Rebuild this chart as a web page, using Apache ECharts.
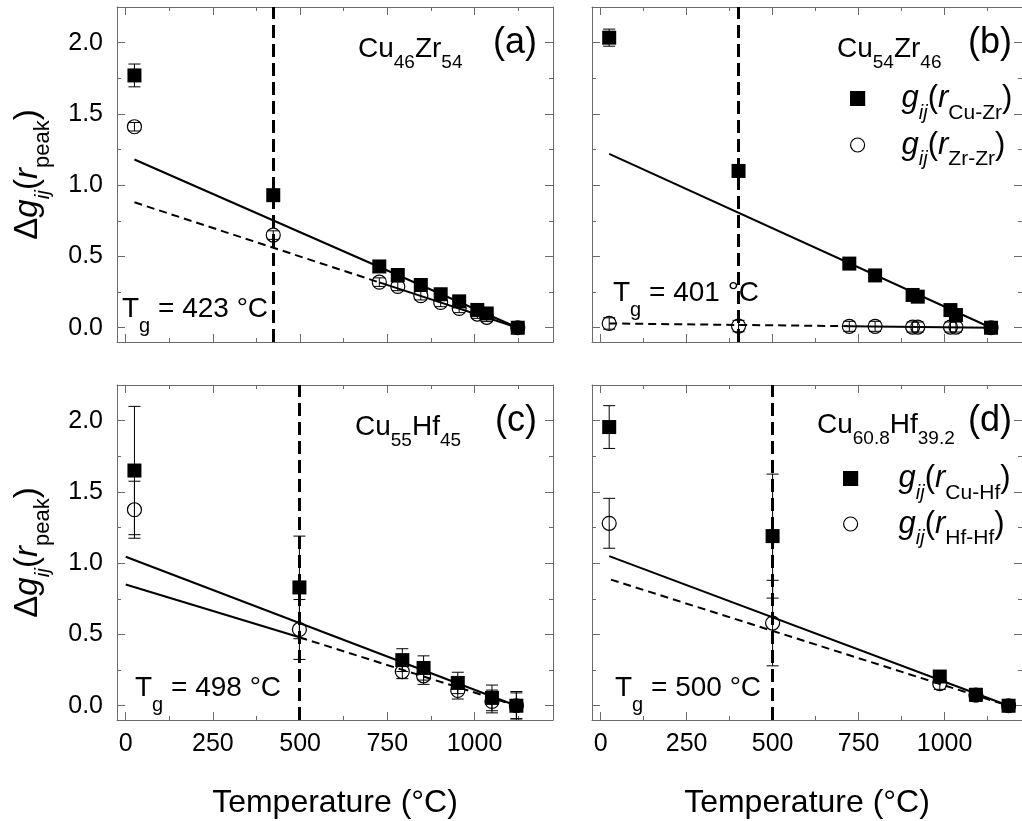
<!DOCTYPE html>
<html>
<head>
<meta charset="utf-8">
<script src="https://cdn.jsdelivr.net/npm/echarts@6/dist/echarts.min.js"></script>
<style>
  html, body { margin: 0; padding: 0; background: #fff; }
  #chart { width: 1022px; height: 821px; }
</style>
</head>
<body>
<div id="chart"></div>
<script>
// Axis ranges and tick positions shared by all four panels
const X_MIN = -25, X_MAX = 1225, Y_MIN = -0.1, Y_MAX = 2.25;
const xMajor = [0, 250, 500, 750, 1000];
const xMinor = [125, 375, 625, 875, 1125];
const yMajor = [0, 0.5, 1, 1.5, 2];
const yMinor = [0.25, 0.75, 1.25, 1.75];

// (a) Cu46Zr54
const tgA = 423;
const tempA = [25, 423, 727, 780, 846, 903, 956, 1008, 1035, 1124];
const cuZrA = [1.77, 0.93, 0.43, 0.37, 0.30, 0.235, 0.185, 0.125, 0.10, 0.0];
const cuZrErrA = [0.08, 0.03, 0.02, 0.02, 0.02, 0.02, 0.02, 0.02, 0.02, 0.02];
const zrZrA = [1.41, 0.65, 0.32, 0.29, 0.225, 0.178, 0.136, 0.096, 0.073, 0.0];
const zrZrErrA = [0.03, 0.03, 0.03, 0.03, 0.03, 0.03, 0.03, 0.03, 0.03, 0.03];
const fitCuZrA = [[25, 1.18], [1124, 0]];
const fitZrZrExtA = [[25, 0.88], [727, 0.318]];
const fitZrZrA = [[727, 0.318], [1124, 0]];

// (b) Cu54Zr46
const tgB = 401;
const tempB = [25, 401, 723, 798, 907, 922, 1017, 1033, 1135];
const cuZrB = [2.035, 1.10, 0.45, 0.367, 0.23, 0.218, 0.124, 0.089, 0.0];
const cuZrErrB = [0.06, 0.02, 0.02, 0.02, 0.02, 0.02, 0.02, 0.02, 0.02];
const zrZrB = [0.03, 0.012, 0.01, 0.01, 0.005, 0.005, 0.005, 0.005, 0.0];
const zrZrErrB = [0.04, 0.04, 0.035, 0.035, 0.035, 0.035, 0.035, 0.035, 0.035];
const fitCuZrB = [[25, 1.22], [1135, 0]];
const fitZrZrExtB = [[25, 0.03], [723, 0.011]];
const fitZrZrB = [[723, 0.011], [1135, 0]];

// (c) Cu55Hf45
const tgC = 498;
const tempC = [25, 498, 793, 854, 952, 1050, 1120];
const cuHfC = [1.65, 0.83, 0.32, 0.265, 0.16, 0.055, 0.0];
const cuHfErrC = [0.45, 0.36, 0.08, 0.085, 0.075, 0.09, 0.1];
const hfHfC = [1.375, 0.535, 0.24, 0.21, 0.107, 0.03, 0.0];
const hfHfErrC = [0.2, 0.21, 0.05, 0.06, 0.06, 0.08, 0.09];
const fitCuHfC = [[0, 1.045], [1120, 0]];
const fitHfHfC = [[0, 0.85], [498, 0.48]];
const fitHfHfExtC = [[498, 0.48], [1120, 0]];

// (d) Cu60.8Hf39.2
const tgD = 500;
const tempD = [25, 500, 986, 1091, 1186];
const cuHfD = [1.955, 1.19, 0.205, 0.077, 0.0];
const cuHfErrD = [0.15, 0.435, 0.035, 0.04, 0.04];
const hfHfD = [1.28, 0.58, 0.155, 0.075, 0.0];
const hfHfErrD = [0.175, 0.30, 0.04, 0.045, 0.04];
const fitCuHfD = [[25, 1.05], [1186, 0]];
const fitHfHfExtD = [[30, 0.885], [1186, 0]];

const FONT = "'Liberation Sans', Arial, sans-serif";
const AXIS_COLOR = '#6a6a6a';

const panels = [
  { tg: tgA, tgLabel: '423', temp: tempA, s1: cuZrA, e1: cuZrErrA, s2: zrZrA, e2: zrZrErrA,
    solid: [fitCuZrA, fitZrZrA], dashed: [fitZrZrExtA], names: ['a-Cu-Zr', 'a-Zr-Zr'],
    alloy: '{m|Cu}{s|46}{m|Zr}{s|54}', tag: '(a)', alloyX: 241, alloyY: 42, tgX: 5, tgY: 302 },
  { tg: tgB, tgLabel: '401', temp: tempB, s1: cuZrB, e1: cuZrErrB, s2: zrZrB, e2: zrZrErrB,
    solid: [fitCuZrB, fitZrZrB], dashed: [fitZrZrExtB], names: ['Cu-Zr', 'Zr-Zr'],
    alloy: '{m|Cu}{s|54}{m|Zr}{s|46}', tag: '(b)', alloyX: 245, alloyY: 42, tgX: 21, tgY: 286 },
  { tg: tgC, tgLabel: '498', temp: tempC, s1: cuHfC, e1: cuHfErrC, s2: hfHfC, e2: hfHfErrC,
    solid: [fitCuHfC, fitHfHfC], dashed: [fitHfHfExtC], names: ['c-Cu-Hf', 'c-Hf-Hf'],
    alloy: '{m|Cu}{s|55}{m|Hf}{s|45}', tag: '(c)', alloyX: 238, alloyY: 42, tgX: 18, tgY: 303 },
  { tg: tgD, tgLabel: '500', temp: tempD, s1: cuHfD, e1: cuHfErrD, s2: hfHfD, e2: hfHfErrD,
    solid: [fitCuHfD], dashed: [fitHfHfExtD], names: ['Cu-Hf', 'Hf-Hf'],
    alloy: '{m|Cu}{s|60.8}{m|Hf}{s|39.2}', tag: '(d)', alloyX: 225, alloyY: 40, tgX: 23, tgY: 303 }
];

const PANEL_W = 436, PANEL_H = 335;
const origins = [[117, 7], [592, 7], [117, 385], [592, 385]];
const grids = origins.map(([l, t]) => ({ left: l, top: t, width: PANEL_W, height: PANEL_H }));

const subRich = {
  m: { fontSize: 28, fontFamily: FONT, color: '#000' },
  s: { fontSize: 19, fontFamily: FONT, color: '#000', padding: [28, 0, 0, 0] }
};

function xAxisFor(g, position, ticks, len, showLine, withLabels) {
  return {
    type: 'value', gridIndex: g, position, min: X_MIN, max: X_MAX,
    axisLine: { show: showLine, onZero: false, lineStyle: { color: AXIS_COLOR, width: 1 } },
    axisTick: { show: true, inside: true, length: len, customValues: ticks,
                lineStyle: { color: AXIS_COLOR, width: 1 } },
    axisLabel: { show: withLabels, customValues: ticks, margin: 12, color: '#000',
                 fontSize: 25, fontFamily: FONT, formatter: v => String(v) },
    splitLine: { show: false },
    name: withLabels ? 'Temperature (°C)' : '',
    nameLocation: 'middle', nameGap: 67,
    nameTextStyle: { fontSize: 32, fontFamily: FONT, color: '#000' }
  };
}

function yAxisFor(g, position, ticks, len, showLine, withLabels) {
  return {
    type: 'value', gridIndex: g, position, min: Y_MIN, max: Y_MAX,
    axisLine: { show: showLine, onZero: false, lineStyle: { color: AXIS_COLOR, width: 1 } },
    axisTick: { show: true, inside: true, length: len, customValues: ticks,
                lineStyle: { color: AXIS_COLOR, width: 1 } },
    axisLabel: { show: withLabels, customValues: ticks, margin: 14, color: '#000',
                 fontSize: 25, fontFamily: FONT, formatter: v => v.toFixed(1) },
    splitLine: { show: false },
    name: withLabels ? '{d|Δ}{g|g}{ij|ij}{p|(}{r|r}{s|peak}{p|)}' : '',
    nameLocation: 'middle', nameGap: 63, nameRotate: 90,
    nameTextStyle: {
      fontSize: 33, fontFamily: FONT, color: '#000',
      rich: {
        d: { fontSize: 33, fontFamily: FONT },
        g: { fontSize: 33, fontFamily: FONT, fontStyle: 'italic' },
        ij: { fontSize: 21, fontFamily: FONT, fontStyle: 'italic', padding: [31, 0, 0, 0] },
        p: { fontSize: 33, fontFamily: FONT },
        r: { fontSize: 33, fontFamily: FONT, fontStyle: 'italic' },
        s: { fontSize: 22, fontFamily: FONT, padding: [31, 0, 0, 0] }
      }
    }
  };
}

const xAxes = [], yAxes = [];
panels.forEach((p, g) => {
  const bottomLabels = g >= 2;
  const leftLabels = g % 2 === 0;
  xAxes.push(xAxisFor(g, 'bottom', xMajor, 8, true, bottomLabels));
  xAxes.push(xAxisFor(g, 'bottom', xMinor, 4, false, false));
  xAxes.push(xAxisFor(g, 'top', xMajor, 8, true, false));
  xAxes.push(xAxisFor(g, 'top', xMinor, 4, false, false));
  yAxes.push(yAxisFor(g, 'left', yMajor, 8, true, leftLabels));
  yAxes.push(yAxisFor(g, 'left', yMinor, 4, false, false));
  yAxes.push(yAxisFor(g, 'right', yMajor, 8, true, false));
  yAxes.push(yAxisFor(g, 'right', yMinor, 4, false, false));
});

// Vertical error bar with short caps
function errorBar(params, api) {
  const x = api.value(0), lo = api.value(1), hi = api.value(2);
  const top = api.coord([x, hi]);
  const bot = api.coord([x, lo]);
  const w = 6;
  const style = { stroke: '#000', lineWidth: 1, fill: null };
  return {
    type: 'group',
    children: [
      { type: 'line', shape: { x1: top[0], y1: top[1], x2: bot[0], y2: bot[1] }, style },
      { type: 'line', shape: { x1: top[0] - w, y1: top[1], x2: top[0] + w, y2: top[1] }, style },
      { type: 'line', shape: { x1: bot[0] - w, y1: bot[1], x2: bot[0] + w, y2: bot[1] }, style }
    ]
  };
}

const series = [];
panels.forEach((p, g) => {
  const axes = { xAxisIndex: 4 * g, yAxisIndex: 4 * g };

  // glass transition marker
  series.push({
    type: 'line', ...axes, data: [], silent: true,
    markLine: {
      silent: true, symbol: ['none', 'none'], animation: false,
      label: { show: false },
      lineStyle: { color: '#000', width: 3, type: [13, 6] },
      data: [{ xAxis: p.tg }]
    }
  });

  // linear fits
  p.solid.forEach(seg => series.push({
    type: 'line', ...axes, data: seg, symbol: 'none', silent: true, z: 2,
    lineStyle: { color: '#000', width: 2, type: 'solid' }
  }));
  p.dashed.forEach(seg => series.push({
    type: 'line', ...axes, data: seg, symbol: 'none', silent: true, z: 2,
    lineStyle: { color: '#000', width: 2, type: [8, 5] }
  }));

  // error bars
  const bars = [];
  p.temp.forEach((t, i) => {
    bars.push([t, p.s1[i] - p.e1[i], p.s1[i] + p.e1[i]]);
    bars.push([t, p.s2[i] - p.e2[i], p.s2[i] + p.e2[i]]);
  });
  series.push({
    type: 'custom', ...axes, data: bars, renderItem: errorBar, clip: true, silent: true, z: 3,
    encode: { x: 0, y: [1, 2] }
  });

  // markers
  series.push({
    name: p.names[0], type: 'scatter', ...axes, z: 4,
    data: p.temp.map((t, i) => [t, p.s1[i]]),
    symbol: 'rect', symbolSize: 14,
    itemStyle: { color: '#000', borderColor: '#000', borderWidth: 0, opacity: 1 }
  });
  series.push({
    name: p.names[1], type: 'scatter', ...axes, z: 5,
    data: p.temp.map((t, i) => [t, p.s2[i]]),
    symbol: 'circle', symbolSize: 14,
    itemStyle: { color: 'rgba(0,0,0,0)', borderColor: '#000', borderWidth: 1.2, opacity: 1 }
  });
});

// legends for panels (b) and (d)
function legendFor(names, sub1, sub2, left, top, gap, pad) {
  const subs = {};
  subs[names[0]] = sub1;
  subs[names[1]] = sub2;
  return {
    data: names, orient: 'vertical', left, top, itemGap: gap, padding: 0,
    itemWidth: 14, itemHeight: 14,
    itemStyle: { borderWidth: 1.2, borderColor: '#000', opacity: 1 },
    selectedMode: false,
    formatter: n => '{pad|}{g|g}{ij|ij}{p|(}{r|r}{s|' + subs[n] + '}{p|)}',
    textStyle: {
      color: '#000', fontFamily: FONT, fontSize: 30,
      rich: {
        pad: { width: pad },
        g: { fontSize: 31, fontFamily: FONT, fontStyle: 'italic' },
        ij: { fontSize: 20, fontFamily: FONT, fontStyle: 'italic', padding: [29, 0, 0, 0] },
        p: { fontSize: 31, fontFamily: FONT },
        r: { fontSize: 31, fontFamily: FONT, fontStyle: 'italic' },
        s: { fontSize: 21, fontFamily: FONT, padding: [29, 0, 0, 0] }
      }
    }
  };
}

const legends = [
  legendFor(['Cu-Zr', 'Zr-Zr'], 'Cu-Zr', 'Zr-Zr', 850, 83, 6, 32),
  legendFor(['Cu-Hf', 'Hf-Hf'], 'Cu-Hf', 'Hf-Hf', 843, 463, 5, 36)
];

// panel annotations: alloy, panel tag, glass transition temperature
const graphics = [];
panels.forEach((p, g) => {
  const [ox, oy] = origins[g];
  graphics.push({
    type: 'text', x: ox + p.alloyX, y: oy + p.alloyY, z: 10, silent: true,
    style: { text: p.alloy, rich: subRich, fill: '#000', fontFamily: FONT, fontSize: 28,
             align: 'left', verticalAlign: 'middle' }
  });
  graphics.push({
    type: 'text', x: ox + 420, y: oy + 36, z: 10, silent: true,
    style: { text: p.tag, fill: '#000', fontFamily: FONT, fontSize: 36,
             align: 'right', verticalAlign: 'middle' }
  });
  graphics.push({
    type: 'text', x: ox + p.tgX, y: oy + p.tgY, z: 10, silent: true,
    style: {
      text: '{m|T}{s|g}{m| = ' + p.tgLabel + ' °C}',
      rich: {
        m: { fontSize: 28, fontFamily: FONT, color: '#000' },
        s: { fontSize: 20, fontFamily: FONT, color: '#000', padding: [34, 0, 0, 0] }
      },
      fill: '#000', fontFamily: FONT, fontSize: 28, align: 'left', verticalAlign: 'middle'
    }
  });
});

const chart = echarts.init(document.getElementById('chart'), null, { renderer: 'canvas' });
chart.setOption({
  animation: false,
  backgroundColor: '#fff',
  grid: grids,
  xAxis: xAxes,
  yAxis: yAxes,
  legend: legends,
  series,
  graphic: graphics
});
</script>
</body>
</html>
